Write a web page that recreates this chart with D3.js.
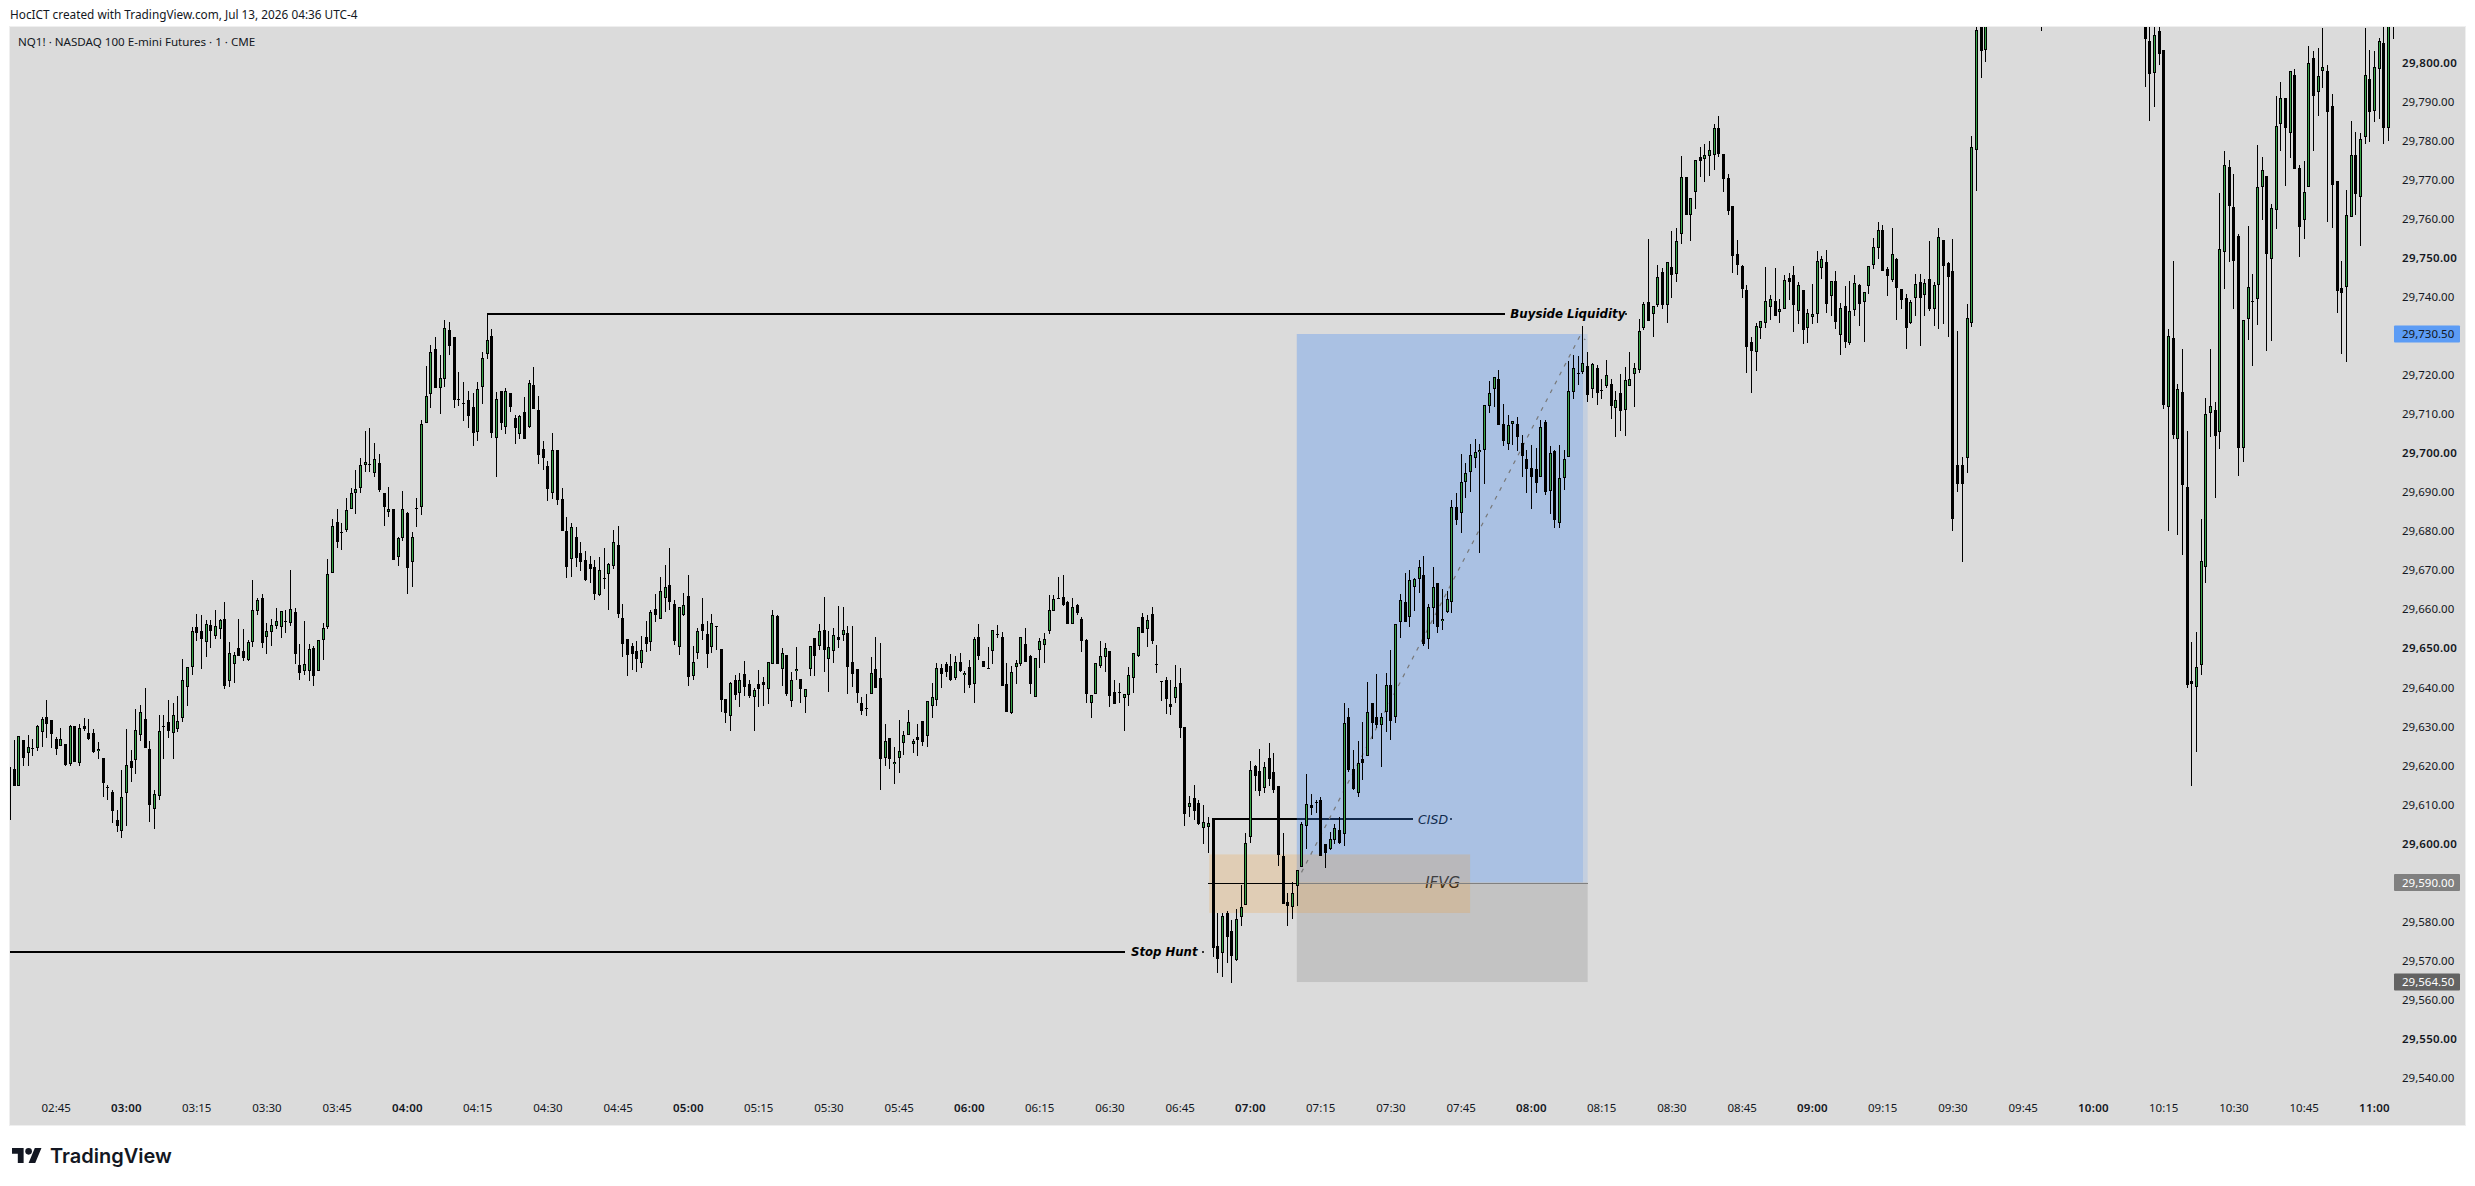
<!DOCTYPE html>
<html>
<head>
<meta charset="utf-8">
<script src="https://d3js.org/d3.v7.min.js"></script>
<style>
  html, body { margin: 0; padding: 0; background: #ffffff; }
  svg { display: block; }
  text { font-family: "Noto Sans", sans-serif; fill: #131722; }
</style>
</head>
<body>
<div id="chart"></div>
<script>
// candles are [open, high, low, close], each block runs minute by minute from its start time
var bars0235 = [
[29619.7,29619.7,29606,29606],[29619,29626.5,29614.7,29614.7],[29614.7,29627.6,29614.7,29627.6],[29626.5,29626.5,29619.8,29622],
[29623.2,29627.8,29619.8,29624.6],[29624.5,29626.7,29622.4,29624.5],[29624.5,29630.3,29623.8,29630],[29628.6,29632.4,29624.7,29631.8],
[29632.3,29636.7,29627.1,29630.7],[29631.5,29631.5,29624.5,29628.1],[29626.7,29627.4,29622.6,29624.3],[29624.9,29629.6,29624.9,29626.7],
[29625.6,29625.6,29619.8,29620],[29620.4,29630.3,29619.9,29630],[29630,29630,29620.8,29620.8],[29620.7,29630.6,29619.8,29629.7],
[29630.2,29632.2,29628.9,29629.3],[29628.3,29631.9,29626.5,29626.8],[29628.3,29629.3,29623.1,29623.4],[29623.8,29626,29621.7,29624.3],
[29621.8,29621.8,29612,29615.6],[29614.4,29615.1,29611.1,29614.4],[29613.2,29613.7,29605.3,29608.4],[29605.9,29608.5,29603,29604.5],
[29603.3,29618.8,29601.5,29611.8]
];
var bars0300 = [
[29613,29629.3,29604.5,29620.2],[29621.1,29623.9,29615.8,29619.4],[29621.5,29634.4,29617.8,29629],[29627.8,29635.4,29626.3,29633.8],
[29631.8,29639.7,29624.5,29624.5],[29624.3,29626.2,29605.5,29609.8],[29608.9,29613.7,29603.8,29612.6],[29612.2,29632.9,29611.1,29628.7],
[29630.2,29632.9,29621.7,29630.2],[29631,29636.7,29627,29628.9],[29628.4,29635.9,29621.7,29632.8],[29629.3,29637.8,29628.5,29631.3],
[29632.2,29647.2,29631.2,29642],[29640.2,29645.1,29635.3,29645.1],[29645.3,29655.4,29643.1,29654.3],[29655.4,29658.8,29651.9,29654],
[29654.3,29658.5,29644.8,29652.4],[29651.5,29657.2,29647.8,29656.1],[29655.9,29657.2,29650.1,29654.5],[29653.2,29659.8,29652.5,29655.6],
[29655,29657.6,29652.5,29657.2],[29657.6,29661.8,29639.6,29640.4],[29641.7,29651.6,29640.2,29648.7],[29646,29649,29641.2,29648.2],
[29650,29657.6,29648.1,29648.1],[29649.2,29654.9,29646.8,29647.6],[29647,29652.1,29646.8,29651.7],[29651.5,29667.4,29650.4,29659.7],
[29659.6,29662.8,29658.6,29662.3],[29662.8,29664,29650.1,29651.4],[29653,29656.4,29648.5,29654.3],[29654.1,29657.6,29650.7,29655.9],
[29655.8,29660.2,29655,29656.9],[29655.5,29659.5,29652.7,29659.5],[29656.9,29659.8,29653.8,29656.9],[29656.6,29670,29655.8,29660],
[29659.3,29660.2,29645.9,29648.6],[29645.6,29651.1,29641.9,29643.7],[29644.2,29657,29643.1,29645.9],[29644.3,29651.1,29641.5,29649.7],
[29650,29650.6,29640.4,29643],[29644.2,29652,29644.2,29652],[29652.2,29656.6,29647,29655.1],[29655.4,29672.9,29655,29668.9],
[29669.4,29683,29669.4,29681.3],[29682.3,29685.6,29675.8,29677.3],[29679.7,29682.2,29675.3,29679.7],[29680.3,29688.5,29679.9,29685.3],
[29685.8,29691,29685.7,29689.7],[29689.7,29695.7,29684.4,29690.7],[29691.1,29698.7,29689.9,29696.9],[29697,29705.7,29695.1,29697.6],
[29697.1,29706.4,29695.1,29697.1],[29695,29702.6,29694,29698.4],[29697.4,29699.7,29690.1,29690.5],[29689.9,29689.9,29681.4,29686.3],
[29685,29691.3,29683.5,29685.6],[29685.7,29685.7,29672.6,29672.6],[29673.3,29678.4,29671,29678.2],[29678.2,29690.2,29677.5,29685.8]
];
var bars0400 = [
[29684.6,29685,29664,29670.5],[29672.2,29679.8,29665.8,29678.4],[29685.9,29688.4,29681,29685.9],[29686.3,29708.6,29684.1,29707.4],
[29707.8,29722.3,29711.6,29714.5],[29715.2,29727.6,29711.6,29725.8],[29726.6,29729.7,29716.8,29716.8],[29716.8,29725.1,29709.9,29719.2],
[29719.1,29734.1,29717,29732],[29731.5,29733.6,29725,29727.5],[29729.7,29729.7,29711.6,29713.6],[29713.9,29720.8,29712.1,29713.9],
[29712.8,29718.2,29708.2,29712.8],[29713.5,29715.9,29706.3,29709.6],[29711.8,29715.3,29701.9,29705.2],[29705.5,29718.1,29703.1,29716.3],
[29717,29725.9,29712.6,29724.3],[29725.3,29735.6,29724,29728.9],[29730,29731.7,29703.9,29705.2],[29703.8,29715.7,29694,29713.8],
[29715.8,29715.8,29705.9,29707.8],[29706.8,29716.6,29705,29715.8],[29715.3,29715.3,29710.4,29711.9],[29708.9,29709.8,29702.4,29706.3],
[29705,29709.8,29703.7,29709.6],[29710.5,29714.4,29703.7,29703.7],[29706.6,29718.7,29706.3,29717.9],[29717.4,29722,29711.4,29711.4],
[29711,29714.5,29697.3,29699.6],[29701.1,29703.1,29695.7,29698.8],[29696.7,29697.9,29687.8,29690.8],[29689.9,29705.1,29688.2,29700.7],
[29700.7,29700.7,29686.7,29688],[29688.2,29691,29680,29680],[29680,29683.5,29668.1,29670.9],[29672.8,29682,29668.3,29681],
[29678.5,29681,29670.9,29673],[29674.3,29677.3,29669.8,29672.2],[29672.6,29674.8,29667.3,29667.5],[29671.6,29673.6,29666.8,29670.3],
[29670.7,29672.6,29662.4,29663.9],[29663.6,29673.3,29663.4,29670],[29667.9,29675.6,29665.2,29667.9],[29669.1,29671.8,29659.8,29671.5],
[29671.2,29680.3,29670.3,29677.1],[29676.4,29681.3,29657.8,29658.9],[29657.7,29661.3,29647.8,29651.2],[29652.5,29652.5,29643,29648.4],
[29650.6,29651.4,29644.4,29648.6],[29649.2,29651.9,29644,29647.3],[29646.3,29653.1,29645,29649.5],[29652.8,29657,29649.1,29651],
[29651.7,29659.8,29649.4,29659.2],[29660,29663.8,29656.8,29658.6],[29657.6,29668.2,29657.5,29664.8],[29663,29671.3,29659.3,29665.8],
[29666.1,29675.6,29659.8,29661.9],[29661.3,29662.3,29650.8,29651.9],[29650.2,29660.5,29648.4,29660.5],[29658.6,29664.2,29658.3,29661]
];
var bars0500 = [
[29663.3,29668.8,29640.4,29642.7],[29643,29650.6,29641.9,29646.4],[29648.9,29655.1,29647.2,29654.4],[29656.2,29662.9,29652.1,29654.5],
[29653.6,29657,29644.9,29648.6],[29650.2,29658.9,29648.9,29656.4],[29655.6,29655.6,29649.6,29655.6],[29649.8,29649.8,29633.8,29636.8],
[29636.9,29636.9,29630.9,29633.3],[29632.7,29641.4,29628.9,29641.1],[29642,29643.1,29636.8,29638],[29638.6,29643.7,29634.9,29642],
[29643.3,29646.7,29637.9,29640.2],[29640.8,29641.9,29637.3,29637.8],[29637.6,29639.8,29628.9,29639.2],[29640.9,29644.4,29635,29639.6],
[29641.4,29642.7,29635.2,29640.7],[29639.5,29646.4,29635.7,29646.4],[29645.9,29659.8,29645.9,29658.4],[29658.3,29658.5,29646,29646],
[29644.8,29650.1,29640.4,29648.7],[29648.2,29648.2,29637.7,29638.3],[29636.4,29643.9,29635,29641.8],[29644.1,29650.2,29642,29644.8],
[29642.2,29642.2,29635.9,29639.5],[29637.4,29639.6,29633.5,29639.6],[29644.8,29650.7,29643,29650.7],[29652.6,29652.6,29643,29648.1],
[29650.7,29656.2,29649.6,29654.4],[29654.7,29663.1,29643.9,29649.6],[29647.3,29654.4,29638.9,29650.2],[29649.4,29655.1,29646.3,29653.3],
[29652.8,29660.8,29650,29652.1],[29653.4,29660.6,29651.9,29654.8],[29653.8,29655.7,29638.3,29645.3],[29646.4,29655.7,29640,29643.5],
[29644.7,29644.7,29636.1,29638.6],[29635.9,29637.4,29633,29634],[29634.6,29638.3,29632.7,29634.6],[29638.2,29647.8,29638.2,29643.6],
[29644.7,29652.8,29639.9,29639.9],[29642.5,29651.3,29613.8,29621.7],[29622,29630.6,29619.9,29626.2],[29627.1,29627.1,29619.1,29621.7],
[29620.3,29624.8,29615.3,29620.9],[29621.8,29631.6,29618.1,29623.6],[29625.8,29628.7,29622.6,29627.7],[29627.9,29634.2,29627.7,29631],
[29625.6,29626.8,29623.2,29626.2],[29627.3,29630.6,29622.5,29626.6],[29631.3,29631.3,29625,29626.1],[29627.6,29636.4,29624.8,29636.4],
[29635.3,29641,29632.2,29637.6],[29636.7,29646.3,29635.3,29644.9],[29644.9,29646.1,29639.9,29643.5],[29645.9,29646.4,29642.7,29644],
[29645.5,29648.5,29641.6,29641.9],[29642.5,29648.1,29641.9,29646.6],[29646.6,29648.8,29643.8,29644.2],[29643.1,29644.1,29638.5,29643.7]
];
var bars0600 = [
[29645.1,29647,29639.9,29640.7],[29640.9,29652.8,29636.1,29652.5],[29652.8,29656.1,29647,29648.1],[29646.7,29646.7,29645.3,29645.3],
[29644.9,29650.2,29644.9,29644.9],[29649.4,29654.6,29646,29654.6],[29653.7,29655.9,29652.7,29653.7],[29652.8,29654.1,29640.4,29640.4],
[29640.8,29646.2,29633.8,29633.8],[29633.3,29645.4,29633.2,29643.8],[29645.3,29647,29640.9,29646.3],[29645.9,29652.8,29645.5,29652.8],
[29651.1,29655.1,29646.6,29646.6],[29648,29648.3,29638.3,29640.8],[29637.6,29647.6,29637.4,29647.4],[29649.6,29652.7,29644.9,29651.8],
[29650.9,29654,29646.2,29652.3],[29654.5,29663.6,29653.7,29659.7],[29659.6,29663.6,29659.6,29662.5],[29662.8,29668.2,29662.5,29662.8],
[29663.2,29668.8,29660.8,29661.1],[29661.9,29662.1,29656.3,29656.3],[29656.3,29662.9,29656.3,29660.5],[29661.1,29661.3,29658.6,29659],
[29657.4,29658.1,29649,29651.9],[29652.1,29652.3,29636.1,29638.4],[29636.1,29638.1,29632.2,29638.1],[29638.2,29646.3,29638.2,29646.3],
[29645.5,29651.9,29645,29648.1],[29647.7,29651.3,29644,29650.1],[29649.2,29649.2,29635,29637.8],[29638.9,29642,29635.7,29635.7],
[29638.7,29641.2,29635.9,29638.7],[29637.3,29638.3,29628.9,29638.3],[29638.1,29645.1,29635.2,29643.2],[29642.5,29648.7,29638.6,29648.7],
[29648,29655.4,29647.8,29655.4],[29657.9,29659,29653.8,29653.8],[29655,29658.4,29650.2,29657.2],[29658.7,29660.6,29651.2,29651.8],
[29646.1,29650.8,29643.7,29646.1],[29641.7,29641.7,29636.6,29641.7],[29642,29642.7,29633.2,29637.1],[29635.7,29642,29632.9,29635],
[29637.3,29645.6,29636,29640],[29641,29644.9,29627,29629.5],[29629.8,29629.8,29604.5,29607.5],[29609.4,29612.2,29606.8,29610.3],
[29611.6,29615,29606,29608.2],[29610.3,29611.1,29604.7,29604.9],[29604,29609.8,29599.9,29605.4],[29604.3,29606.9,29597.6,29605.2],
[29606.4,29606.4,29570.8,29573.3],[29573.7,29582.1,29566.7,29570.4],[29571.9,29582.1,29565.9,29581.5],[29582.1,29582.6,29569.5,29576.1],
[29577.5,29580.4,29564.3,29571.3],[29570.2,29583.1,29570,29580.6],[29581.1,29589.4,29578.9,29583.8],[29584.2,29602.6,29584.2,29600]
];
var bars0700 = [
[29601.6,29621,29600.2,29618.9],[29619.8,29620.1,29613.4,29617.4],[29618.5,29624.1,29612.2,29613.5],[29614.1,29620.9,29613,29619.7],
[29621.8,29625.7,29614.7,29616.6],[29618.2,29623.3,29613,29613.8],[29614.7,29614.7,29594.3,29597],[29596.8,29602.6,29584.5,29584.5],
[29584.9,29587.2,29578.9,29584],[29583.8,29590.2,29580.7,29587.2],[29589.2,29593.1,29584.1,29593.1],[29594,29605.6,29594,29605],
[29604.4,29617.7,29598.6,29610],[29609.9,29612.7,29607.3,29609.1],[29610.7,29611.1,29607.7,29610.7],[29611.1,29611.8,29596.8,29596.8],
[29599.9,29599.9,29593.6,29597.6],[29598.5,29603,29598.3,29601.1],[29600.9,29604.9,29599.9,29603.9],[29603.5,29606.9,29599.9,29600],
[29602.5,29636.1,29599.4,29630.8],[29632.3,29634.6,29618.4,29618.8],[29619.2,29624,29613.7,29613.9],[29613,29626.2,29612,29620.5],
[29621.6,29631,29616.3,29620.7],[29622.5,29641.3,29622.5,29633.8],[29636.1,29636.1,29626.7,29630.9],[29632.3,29643.4,29629.5,29630.3],
[29630.3,29633.3,29619.7,29632.3],[29633.7,29643.6,29628.5,29640.7],[29640.7,29649.5,29626.5,29631.4],[29632.5,29656.1,29630.9,29656.1],
[29656.8,29663.9,29652.6,29662.3],[29661.8,29669.2,29656.8,29656.8],[29658.1,29670,29655.5,29667.4],[29665.8,29667.9,29659.5,29667.7],
[29667.8,29672.6,29664.1,29670.7],[29668.8,29673.6,29650.7,29651],[29652.5,29661.3,29649.8,29660.5],[29660.2,29670.9,29656.2,29665.6],
[29666.6,29666.8,29654,29655.5],[29656.9,29665.2,29654.7,29657.4],[29659.2,29664.7,29659.1,29662.7],[29661.9,29688.1,29659.1,29686.3],
[29686.1,29689.8,29681.6,29682.9],[29684.6,29699.8,29679.6,29692.5],[29692.5,29697.4,29688.6,29695],[29695.2,29702.2,29690.1,29699.4],
[29698.8,29703.5,29696.2,29700.4],[29700.4,29702.2,29674.3,29700.9],[29700.9,29712.2,29692.2,29712.2],[29712.1,29718.4,29710.3,29715.5],
[29716.3,29719.6,29711.9,29719.6],[29718.9,29721.4,29707.3,29707.3],[29707.4,29712.6,29701.9,29703.2],[29702.2,29709.7,29700.9,29707.1],
[29707.5,29708.1,29702,29708.1],[29707.4,29709.2,29700.6,29704.2],[29702.7,29704.6,29694,29699.3],[29698.4,29700.8,29689.8,29695.8]
];
var bars0800 = [
[29696.3,29702,29685.8,29693.8],[29695.9,29701.3,29689.8,29692.4],[29693.8,29708.6,29693.8,29706.6],[29707.9,29708.6,29689.3,29690.1],
[29690.4,29701.8,29684.4,29699.9],[29700.5,29700.9,29680.9,29682.9],[29682.2,29702.1,29680.9,29693.5],[29693.5,29700.8,29690.5,29698.6],
[29699,29723.6,29699,29716],[29715.7,29725.1,29713.9,29721.9],[29720.4,29724.9,29717.5,29720.4],[29720.8,29732.5,29720.2,29723.2],
[29722.3,29725.8,29713.2,29715],[29716.5,29723,29714.2,29722.8],[29721.7,29722.5,29712.4,29715.5],[29716.1,29718.9,29713.9,29716.1],
[29717.3,29723.8,29716.7,29719.9],[29717.6,29718.9,29708.8,29712],[29711.6,29716,29704.2,29713.5],[29715.3,29720.2,29705.7,29710.9],
[29711.1,29722.1,29704.4,29718.6],[29717.3,29725.9,29717.3,29718.9],[29720.3,29723,29711.9,29721.9],[29721.4,29734.4,29720.6,29731.2],
[29732,29738.8,29731.5,29738.1],[29738.6,29754.8,29733.9,29733.9],[29735.5,29737.7,29729.8,29737.7],[29737.9,29748.2,29737.5,29745],
[29746.3,29747.3,29737,29737.9],[29737.9,29748.9,29733.4,29748.9],[29747.6,29756.9,29739.8,29745.7],[29745.8,29757.7,29743.9,29754.2],
[29756,29776.1,29753.6,29770.6],[29770.6,29770.6,29761.1,29761.1],[29761.1,29765.4,29754.4,29765.4],[29766.8,29775.2,29762.6,29775.2],
[29775.8,29778.3,29770.8,29774.9],[29775.4,29779.2,29769.5,29776.3],[29776.2,29779.9,29771.1,29777.6],[29776.4,29784.3,29772.4,29783.4],
[29783.4,29786.3,29775.8,29776.7],[29776.5,29776.5,29767,29770.3],[29770.4,29771.4,29761,29762.1],[29763.2,29763.2,29746.2,29750.6],
[29750.9,29754.6,29745.6,29748.1],[29747.9,29748.2,29739.8,29742.1],[29741.7,29743,29720.6,29727.3],[29728.4,29729.7,29715.3,29726.2],
[29725.8,29733.2,29720.9,29732.5],[29732.1,29733.8,29729.2,29733.8],[29733.3,29747.6,29732.1,29738.9],[29737.3,29740.4,29734.1,29739.4],
[29739,29747.3,29735,29735.2],[29736.2,29739.4,29733.4,29736.8],[29736.8,29745.6,29736.8,29744.3],[29744.8,29746.1,29739.2,29743.7],
[29745.6,29748,29731.1,29737.9],[29736.5,29743.7,29733.1,29743],[29741.9,29741.9,29727.9,29731.6],[29732,29736.8,29728.1,29735.8]
];
var bars0900 = [
[29734.9,29743.3,29733,29735.5],[29735.5,29751.8,29733.4,29749.1],[29747.5,29750.5,29744.5,29749.6],[29748.9,29752,29736,29738.3],
[29740.2,29744,29735,29744],[29744,29746.6,29731.7,29733.7],[29730.3,29738.4,29725.2,29737.1],[29737.6,29742.8,29727,29728.5],
[29728.1,29744,29727.7,29736.3],[29736.6,29745.6,29735.1,29743.5],[29743,29743.3,29732.6,29738.2],[29738.6,29741.2,29728.5,29741.2],
[29742.7,29747.8,29740.8,29747.8],[29748.3,29755,29747.2,29752.7],[29752.6,29759.1,29749.8,29757.1],[29757.1,29758.4,29746.7,29746.7],
[29747.1,29747.6,29740.3,29745.4],[29744.3,29757.6,29743.9,29751.1],[29749.6,29750.1,29734.1,29742.4],[29742.1,29742.1,29736.9,29739.3],
[29739.6,29740.7,29726.7,29732.1],[29733.3,29739.2,29733.1,29738.8],[29739.6,29745.9,29735.1,29743.2],[29743.9,29745.9,29727.4,29739.8],
[29740.4,29744.5,29735.1,29743.6],[29744.5,29754.3,29736.4,29736.8],[29736.8,29743.7,29732.6,29743],[29743,29757.7,29731.8,29755.3],
[29754.6,29754.6,29733.1,29748],[29748.6,29748.9,29729.8,29745],[29746.6,29754.8,29680,29683],[29697,29731.3,29690,29692],
[29697,29699,29672.2,29692],[29698.8,29738.1,29695,29734.5],[29733.2,29781.2,29732.4,29778.3],[29777.7,29822,29767.2,29808.4],
[29825,29830,29796.2,29803.1],[29803.3,29835,29800.3,29830]
];
// only the wick tip of this one reaches into the window
var bars0949 = [[29825,29830,29808.1,29822]];
var bars1011 = [
[29825,29830,29793.7,29806.1],[29805.5,29818,29785.1,29797.1],[29797.4,29818,29788.7,29807],[29808,29818,29799.4,29802.2],
[29803.2,29803.2,29711.2,29712.3],[29711.7,29731.9,29680.1,29730.1],[29729.5,29749.2,29703.7,29704.7],[29703.7,29717.7,29678.9,29716.3],
[29715.7,29726.7,29674,29691.7],[29691.2,29705.6,29639.7,29640.6],[29641.6,29651.5,29614.6,29640.9],[29640.2,29654.1,29623.5,29645.1],
[29645.8,29683,29643.2,29672.3],[29670.7,29714,29666.8,29710],[29710.2,29726.7,29704,29712],[29711,29713,29688.6,29704.5],
[29705.3,29766.5,29701.1,29752.4],[29751.6,29777.4,29742.1,29773.7],[29773.2,29775.1,29749,29763.4],[29763,29771.6,29737,29749.3],
[29755.5,29756.1,29694.2,29701.4],[29701.4,29734.1,29697.8,29734.1],[29734.3,29758.2,29729,29742.5],[29738.9,29746,29722.4,29738.9],
[29739.4,29778.9,29732.8,29768.1],[29768.1,29775.8,29759.7,29772.4],[29770.9,29770.9,29726.2,29751.1],[29749.6,29763.8,29728.8,29762.7],
[29762.2,29791.4,29757.3,29783.7],[29784.4,29795,29777.5,29790.9],[29790.9,29790.9,29768.5,29783.3],[29782.1,29797.8,29775.7,29797.8],
[29796.8,29798.5,29772.8,29772.8],[29773,29773.8,29750.3,29758],[29759.6,29774.7,29754.9,29767],[29768.2,29804.3,29768.2,29799.8],
[29801.1,29803,29777.5,29791.5],[29792.6,29803.7,29786.3,29796.5],[29797.8,29809,29793.4,29798.8],[29797.8,29799.4,29759.3,29787.4],
[29788.8,29792.1,29757.7,29768.7],[29769.6,29769.6,29735.9,29741.6],[29742.4,29749.2,29725.3,29740.9],[29742.6,29767.4,29723.4,29760.9],
[29760.5,29785.1,29760.5,29776.3],[29776.3,29782.2,29761,29766.4],[29765.7,29782.1,29753,29780.4],[29781,29809,29779.2,29796.8],
[29795.7,29803.2,29779.8,29787.4],[29787.7,29803,29784.9,29798.8],[29798.3,29806.2,29785.5,29805.5],[29805,29818,29779.2,29783.3],
[29783.3,29818,29779.9,29810],[29825,29830,29806,29815]
];
var barBlocks = [
  ["02:35", bars0235], ["03:00", bars0300], ["04:00", bars0400], ["05:00", bars0500],
  ["06:00", bars0600], ["07:00", bars0700], ["08:00", bars0800], ["09:00", bars0900],
  ["09:49", bars0949], ["10:11", bars1011]
];

var timeTicks = ["02:45","03:00","03:15","03:30","03:45","04:00","04:15","04:30","04:45","05:00","05:15","05:30","05:45",
  "06:00","06:15","06:30","06:45","07:00","07:15","07:30","07:45","08:00","08:15","08:30","08:45","09:00","09:15","09:30",
  "09:45","10:00","10:15","10:30","10:45","11:00"];
var priceTicks = [29800,29790,29780,29770,29760,29750,29740,29720,29710,29700,29690,29680,29670,29660,29650,29640,
  29630,29620,29610,29600,29580,29570,29560,29550,29540];

// drawings, times as minutes after midnight
var buysideLevel = 29735.7, stopHuntLevel = 29572.2, cisdLevel = 29606.2;
var entryPrice = 29590, targetPrice = 29730.5, stopPrice = 29564.5;
var ifvgTop = 29597.2, ifvgBottom = 29582.2;
var statPathTimes = [431, 490.5, 491.6], statPathPrices = [29592.6, 29730.1, 29729];
var priceTags = [
  {price: targetPrice, fill: "#5c9cf5", color: "#131722"},
  {price: entryPrice, fill: "#808080", color: "#ffffff"},
  {price: stopPrice, fill: "#636363", color: "#ffffff"}
];

var width = 2475, height = 1186;
var plot = {left: 10, right: 2465, top: 27, bottom: 1125};
var green = "#36a347";

function toMinutes(s) {
  var p = s.split(":");
  return +p[0] * 60 + +p[1];
}

var x = d3.scaleLinear().domain([165, 660]).range([55.7, 2374]);
var y = d3.scaleLinear().domain([29800, 29540]).range([62.7, 1077.7]);

var candles = [];
barBlocks.forEach(function(block) {
  var start = toMinutes(block[0]);
  block[1].forEach(function(b, i) {
    candles.push({t: start + i, o: b[0], h: b[1], l: b[2], c: b[3]});
  });
});

var svg = d3.select("#chart").append("svg").attr("width", width).attr("height", height);

svg.append("rect").attr("x", 0).attr("y", 0).attr("width", width).attr("height", height).attr("fill", "#ffffff");
svg.append("rect")
  .attr("x", plot.left - 0.5).attr("y", plot.top - 0.5)
  .attr("width", plot.right - plot.left + 1).attr("height", plot.bottom - plot.top + 1)
  .attr("fill", "#dbdbdb").attr("stroke", "#efefef");

svg.append("defs").append("clipPath").attr("id", "plot-clip").append("rect")
  .attr("x", plot.left).attr("y", plot.top)
  .attr("width", plot.right - plot.left).attr("height", plot.bottom - plot.top);

var main = svg.append("g").attr("clip-path", "url(#plot-clip)");

// lines and labels go first, the position boxes tint whatever is under them
function hLine(g, price, t0, t1, w, color) {
  g.append("line")
    .attr("x1", x(t0)).attr("x2", x(t1))
    .attr("y1", Math.round(y(price))).attr("y2", Math.round(y(price)))
    .attr("stroke", color).attr("stroke-width", w)
    .attr("shape-rendering", "crispEdges");
}

function label(g, txt, t, price, size, weight) {
  g.append("text")
    .attr("x", x(t)).attr("y", y(price))
    .attr("dy", "0.35em")
    .attr("font-size", size).attr("font-style", "italic").attr("font-weight", weight)
    .style("font-family", "'DejaVu Sans', sans-serif")
    .style("fill", "#000000")
    .text(txt);
}

hLine(main, buysideLevel, 257, 474.5, 2, "#000000");
hLine(main, buysideLevel, 500, 500.4, 2, "#333333");
label(main, "Buyside Liquidity", 475.6, buysideLevel, 11.8, "bold");

hLine(main, stopHuntLevel, 155, 393.3, 2, "#000000");
hLine(main, stopHuntLevel, 409.8, 410.2, 2, "#333333");
label(main, "Stop Hunt", 394.6, stopHuntLevel, 11.7, "bold");

hLine(main, cisdLevel, 411.9, 454.8, 2, "#000000");
hLine(main, cisdLevel, 462.7, 463.1, 2, "#333333");
label(main, "CISD", 455.9, cisdLevel, 12.5, "normal");
label(main, "IFVG", 457.4, entryPrice, 15, "normal");

// position tool
main.append("rect")
  .attr("x", x(430)).attr("width", x(492.1) - x(430))
  .attr("y", y(targetPrice)).attr("height", y(entryPrice) - y(targetPrice))
  .attr("fill", "#3c87f5").attr("fill-opacity", 0.14);
main.append("rect")
  .attr("x", x(430)).attr("width", x(491.1) - x(430))
  .attr("y", y(targetPrice)).attr("height", y(entryPrice) - y(targetPrice))
  .attr("fill", "#3c87f5").attr("fill-opacity", 0.19);
main.append("rect")
  .attr("x", x(430)).attr("width", x(492.1) - x(430))
  .attr("y", y(entryPrice)).attr("height", y(stopPrice) - y(entryPrice))
  .attr("fill", "#646464").attr("fill-opacity", 0.2);

// IFVG zone
main.append("rect")
  .attr("x", x(411.3)).attr("width", x(467) - x(411.3))
  .attr("y", y(ifvgTop)).attr("height", y(ifvgBottom) - y(ifvgTop))
  .attr("fill", "#f5961e").attr("fill-opacity", 0.2);

hLine(main, entryPrice, 411.1, 430, 1, "#000000");
hLine(main, entryPrice, 430, 492.1, 1, "#808080");

var statLine = d3.line()
  .x(function(d) { return x(d[0]); })
  .y(function(d) { return y(d[1]); });
main.append("path")
  .attr("d", statLine(d3.zip(statPathTimes, statPathPrices)))
  .attr("fill", "none").attr("stroke", "#777777").attr("stroke-width", 1.2)
  .attr("stroke-dasharray", "4 6");

// candles
var candleG = main.selectAll(".candle").data(candles).enter().append("g")
  .attr("class", "candle")
  .attr("shape-rendering", "crispEdges");

candleG.append("rect")
  .attr("x", function(d) { return Math.round(x(d.t)); })
  .attr("width", 1)
  .attr("y", function(d) { return Math.round(y(d.h)); })
  .attr("height", function(d) { return Math.max(1, Math.round(y(d.l)) - Math.round(y(d.h))); })
  .attr("fill", "#000000");

candleG.append("rect")
  .attr("x", function(d) { return Math.round(x(d.t)) - 1; })
  .attr("width", 3)
  .attr("y", function(d) { return Math.round(y(Math.max(d.o, d.c))); })
  .attr("height", function(d) { return Math.max(1, Math.round(y(Math.min(d.o, d.c))) - Math.round(y(Math.max(d.o, d.c)))); })
  .attr("fill", "#000000");

candleG.filter(function(d) { return d.c > d.o; }).append("rect")
  .attr("x", function(d) { return Math.round(x(d.t)); })
  .attr("width", 1)
  .attr("y", function(d) { return Math.round(y(d.c)) + 1; })
  .attr("height", function(d) { return Math.max(1, Math.round(y(d.o)) - Math.round(y(d.c)) - 2); })
  .attr("fill", green);

// axes
var timeAxis = d3.axisBottom(x)
  .tickValues(timeTicks.map(toMinutes))
  .tickSize(0)
  .tickPadding(0)
  .tickFormat(function(m) {
    return d3.format("02d")(Math.floor(m / 60)) + ":" + d3.format("02d")(m % 60);
  });
var timeG = svg.append("g").attr("transform", "translate(0,1104)").call(timeAxis);
timeG.select(".domain").remove();
timeG.selectAll("text")
  .attr("font-size", 11.5)
  .style("font-family", "'Noto Sans', sans-serif")
  .style("fill", "#131722")
  .style("letter-spacing", function(m) { return m % 60 === 0 ? "0.3px" : null; })
  .attr("font-weight", function(m) { return m % 60 === 0 ? "600" : "400"; });

var priceAxis = d3.axisRight(y)
  .tickValues(priceTicks)
  .tickSize(0)
  .tickPadding(0)
  .tickFormat(d3.format(",.2f"));
var priceG = svg.append("g").attr("transform", "translate(2402,0)").call(priceAxis);
priceG.select(".domain").remove();
priceG.selectAll("text")
  .attr("font-size", 11.5)
  .style("font-family", "'Noto Sans', sans-serif")
  .style("fill", "#131722")
  .style("letter-spacing", function(p) { return p % 50 === 0 ? "0.3px" : null; })
  .attr("font-weight", function(p) { return p % 50 === 0 ? "600" : "400"; });

// price tags on the scale
var tags = svg.selectAll(".tag").data(priceTags).enter().append("g").attr("class", "tag");
tags.append("rect")
  .attr("x", 2394).attr("width", 66)
  .attr("y", function(d) { return y(d.price) - 8.5; })
  .attr("height", 17).attr("rx", 1)
  .attr("fill", function(d) { return d.fill; });
tags.append("text")
  .attr("x", 2402)
  .attr("y", function(d) { return y(d.price); })
  .attr("dy", "0.35em")
  .attr("font-size", 11.5)
  .style("fill", function(d) { return d.color; })
  .text(function(d) { return d3.format(",.2f")(d.price); });

// header, legend, logo
svg.append("text").attr("x", 10).attr("y", 14.7).attr("dy", "0.35em")
  .attr("font-size", 11.8)
  .text("HocICT created with TradingView.com, Jul 13, 2026 04:36 UTC-4");
svg.append("text").attr("x", 18).attr("y", 41.7).attr("dy", "0.35em")
  .attr("font-size", 11.6)
  .text("NQ1! · NASDAQ 100 E-mini Futures · 1 · CME");

var logo = svg.append("g").attr("transform", "translate(12,1144.7) scale(0.83)").attr("fill", "#131722");
logo.append("path").attr("d", "M14 22H7V11H0V4h14v18ZM28 22h-8l7.5-18h8L28 22Z");
logo.append("circle").attr("cx", 20).attr("cy", 8).attr("r", 4);
svg.append("text").attr("x", 50).attr("y", 1163)
  .attr("font-size", 20).attr("font-weight", 600)
  .style("font-family", "Inter, sans-serif")
  .text("TradingView");
</script>
</body>
</html>
